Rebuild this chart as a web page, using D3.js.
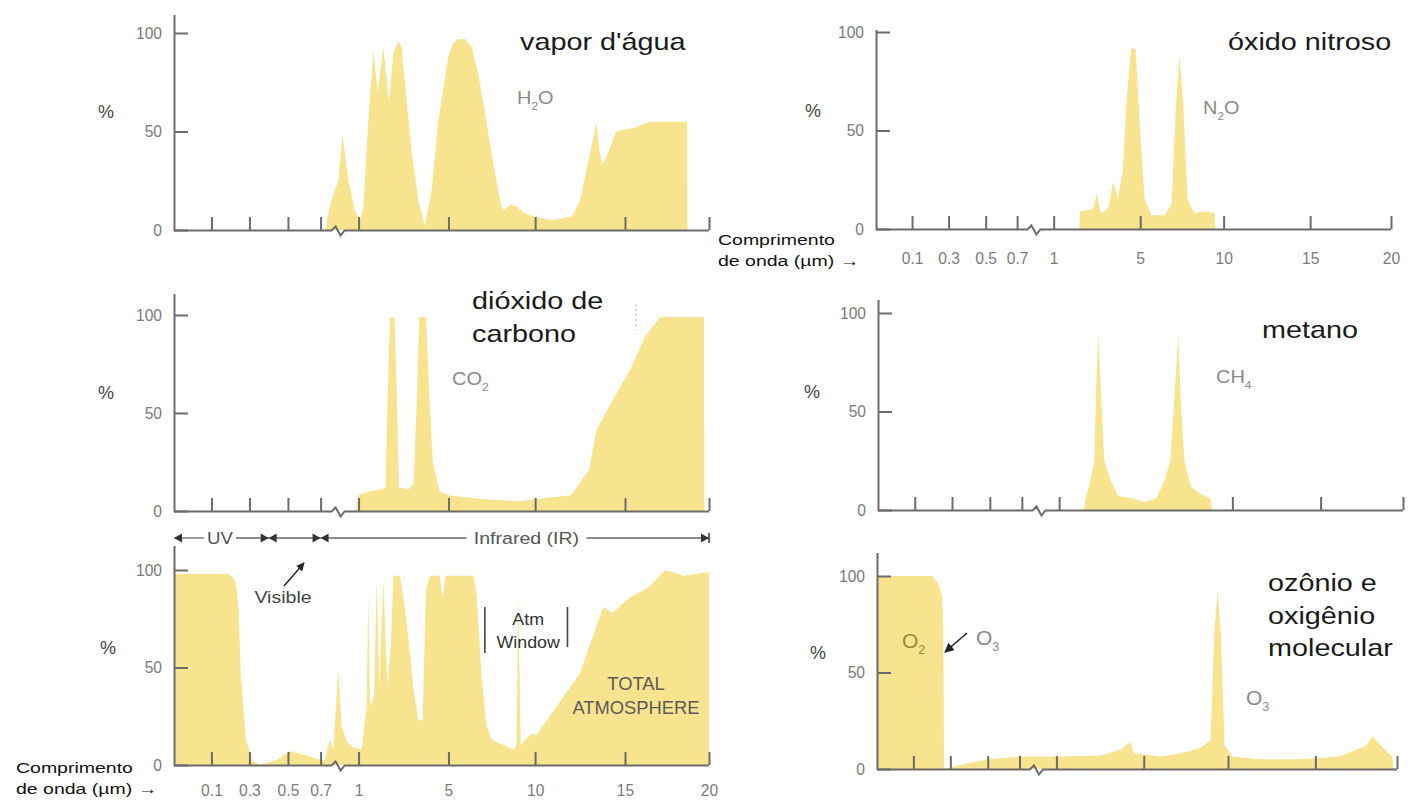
<!DOCTYPE html>
<html><head><meta charset="utf-8">
<script src="https://cdn.jsdelivr.net/npm/d3@7"></script>
<style>html,body{margin:0;padding:0;background:#fff;} svg{display:block}</style>
</head><body>
<svg id="c" width="1408" height="805"></svg>
<script>
// ---------------- DATA ----------------
const xTickValues = [0.1, 0.3, 0.5, 0.7, 1, 5, 10, 15, 20];
const xTickLabels = ["0.1", "0.3", "0.5", "0.7", "1", "5", "10", "15", "20"];
const yTickValues = [0, 50, 100];

// [wavelength µm, absorption %]
const h2o = [[0.74,0],[0.76,8],[0.8,18],[0.84,25],[0.874,48],[0.92,25],[0.97,10],[1.07,5],[1.21,11],[1.43,55],[1.66,91],[1.85,70],[2.1,93],[2.35,65],[2.55,90],[2.77,96],[2.91,93],[3.06,75],[3.36,40],[3.66,15],[3.95,2],[4.25,20],[4.54,55],[4.99,88],[5.3,95],[5.56,97],[5.94,97],[6.33,93],[6.7,80],[7.1,60],[7.47,40],[7.86,20],[8.05,12],[8.2,10],[8.6,13],[8.9,12],[9.3,9],[9.85,7],[10.95,5],[12.05,7],[12.5,15],[12.85,30],[13.2,45],[13.4,55],[13.55,42],[13.75,33],[14.1,40],[14.5,50],[15.6,52],[16.5,55],[18.7,55],[18.72,0]];
const co2 = [[0.98,0],[1.0,8],[1.5,10],[2.0,11],[2.2,12],[2.3,60],[2.4,99],[2.6,99],[2.7,60],[2.8,12],[3.2,11],[3.45,14],[3.6,60],[3.7,99],[4.0,99],[4.15,60],[4.3,25],[4.6,10],[5,8],[7,6],[9,5],[10,6],[12,8],[12.3,12],[13.0,21],[13.4,41],[14.4,58],[15.3,72],[16.2,89],[17.1,99],[19.7,99],[19.72,0]];
const totalAtm = [[0,98],[0.19,98],[0.215,96],[0.23,93],[0.243,80],[0.254,47],[0.281,13],[0.318,2],[0.355,0],[0.45,3],[0.51,7],[0.61,5],[0.73,2],[0.774,13],[0.8,8],[0.84,49],[0.866,20],[0.906,12],[0.958,9],[1.14,8],[1.36,30],[1.43,88],[1.51,30],[1.69,35],[1.81,95],[1.92,40],[2.1,95],[2.28,40],[2.43,60],[2.55,97],[2.84,97],[3.07,80],[3.44,40],[3.66,23],[3.85,23],[4.0,90],[4.18,97],[4.62,97],[4.74,85],[4.86,97],[6.43,97],[6.62,88],[6.91,45],[7.2,20],[7.49,13],[7.97,11],[8.74,8],[8.93,10],[9.03,88],[9.17,10],[9.51,14],[9.9,16],[10.05,15],[11.2,30],[12.5,47],[13.4,71],[13.8,81],[14.3,78],[15.3,86],[16.4,91],[17.4,100],[18.5,97],[20,99],[20,0]];
const n2o = [[2.18,0],[2.22,9],[2.81,10],[2.92,14],[3.02,18],[3.12,10],[3.22,8],[3.54,11],[3.75,24],[3.96,15],[4.2,30],[4.37,65],[4.58,92],[4.79,91],[5.0,49],[5.27,15],[5.68,7],[6.48,7],[6.89,13],[7.0,35],[7.16,65],[7.35,88],[7.57,65],[7.84,15],[8.24,8],[8.92,9],[9.47,8],[9.5,0]];
const ch4 = [[2.15,0],[2.18,5],[2.42,15],[2.6,25],[2.69,66],[2.78,90],[2.87,66],[3.05,25],[3.33,15],[3.69,7],[4.32,6],[4.87,4],[5.54,6],[6.01,15],[6.36,25],[6.6,58],[6.83,89],[6.95,58],[7.18,25],[7.54,12],[8.13,8],[8.71,6],[8.8,0]];
const o2o3 = [[0,100],[0.202,100],[0.234,96],[0.256,89],[0.262,72],[0.266,0],[0.396,3],[0.502,5],[0.705,6.5],[1.18,6.5],[3.01,7],[3.93,10],[4.38,14],[4.57,8],[6.0,6.5],[7.19,8],[8.37,11],[8.97,15],[9.2,72],[9.37,92],[9.56,72],[9.8,12],[10.25,6.5],[11.86,5],[14.15,5],[16.44,6.5],[18.1,12],[18.5,17],[19.25,10],[19.7,6.5],[19.8,0]];

const bandNames = ["UV", "", "Infrared (IR)"];
const bandEdges = [0, 0.4, 0.7, 20];
const atmWindow = [7.1, 11.8];

// ---------------- LAYOUT ----------------
const knots = [0, 0.1, 0.3, 0.5, 0.7, 1, 5, 10, 15, 20];
const knotFrac = [0, 0.07, 0.141, 0.213, 0.274, 0.345, 0.513, 0.675, 0.843, 1];
const BREAK = 0.85;
const FILL = "#f8e38e", AXIS = "#6b6b6b";
const SANS = "'Liberation Sans', Arial, Helvetica, sans-serif";
const SX = 1.2;

const svg = d3.select("#c");
const defs = svg.append("defs");
defs.append("marker").attr("id", "ah").attr("viewBox", "0 0 10 10")
  .attr("refX", 9).attr("refY", 5).attr("markerWidth", 6).attr("markerHeight", 6)
  .attr("orient", "auto").append("path").attr("d", "M0,0 L10,5 L0,10 z").attr("fill", "#222");

function addText(g, x, y, str, o) {
  o = o || {};
  return g.append("text")
    .attr("transform", `translate(${x},${y}) scale(${o.sx || 1},1)`)
    .attr("font-family", o.family || SANS)
    .attr("font-size", o.size || 16)
    .attr("fill", o.fill || "#111")
    .attr("text-anchor", o.anchor || "start")
    .text(str);
}
function chem(g, x, y, parts, o) {
  const t = g.append("text")
    .attr("transform", `translate(${x},${y}) scale(${o.sx || 1},1)`)
    .attr("font-family", SANS).attr("font-size", o.size).attr("fill", o.fill);
  parts.forEach(p => {
    if (p.sub) {
      t.append("tspan").attr("font-size", o.size * 0.6).attr("dy", o.size * 0.3).text(p.t);
    } else {
      t.append("tspan").attr("dy", p.back ? -o.size * 0.3 : 0).text(p.t);
    }
  });
  return t;
}

const panels = [
  { data: h2o, x0: 174, x1: 709, y0: 230, y100: 33, top: 15, ticks: xTickValues, showX: false, pct: 106,
    title: ["vapor d'água"], tx: 520, ty: 50,
    gas: [{t: "H"}, {t: "2", sub: true}, {t: "O", back: true}], gx: 517, gy: 104 },
  { data: co2, x0: 174, x1: 709, y0: 511, y100: 315, top: 294, ticks: xTickValues, showX: false, pct: 106,
    title: ["dióxido de", "carbono"], tx: 472, ty: 309, box: [446, 282, 190, 70],
    gas: [{t: "CO"}, {t: "2", sub: true}], gx: 452, gy: 385 },
  { data: totalAtm, x0: 174, x1: 709, y0: 765, y100: 570, top: 546, ticks: xTickValues, showX: true, pad: 19, pct: 108,
    comp: [16, 773] },
  { data: n2o, x0: 876, x1: 1391, y0: 229, y100: 32, top: 30, ticks: xTickValues, showX: true, pad: 23, pct: 813,
    title: ["óxido nitroso"], tx: 1228, ty: 50, comp: [718, 245],
    gas: [{t: "N"}, {t: "2", sub: true}, {t: "O", back: true}], gx: 1203, gy: 114 },
  { data: ch4, x0: 878, x1: 1403, y0: 510, y100: 313, top: 300, ticks: xTickValues.filter(v => v !== 5), showX: false, pct: 812,
    title: ["metano"], tx: 1262, ty: 338,
    gas: [{t: "CH"}, {t: "4", sub: true}], gx: 1216, gy: 383 },
  { data: o2o3, x0: 877, x1: 1397, y0: 769, y100: 576, top: 553, ticks: xTickValues, showX: false, pct: 818,
    title: ["ozônio e", "oxigênio", "molecular"], tx: 1268, ty: 591 }
];

const scales = [];
panels.forEach(p => {
  const g = svg.append("g");
  const x = d3.scaleLinear().domain(knots).range(knotFrac.map(f => p.x0 + f * (p.x1 - p.x0)));
  const y = d3.scaleLinear().domain([0, 100]).range([p.y0, p.y100]);
  scales.push({x, y});

  g.append("path").datum(p.data).attr("fill", FILL)
    .attr("d", d3.area().x(d => x(d[0])).y0(y(0)).y1(d => y(d[1])));

  if (p.box) {
    g.append("rect").attr("x", p.box[0]).attr("y", p.box[1]).attr("width", p.box[2]).attr("height", p.box[3]).attr("fill", "#fff");
    g.append("line").attr("x1", p.box[0] + p.box[2]).attr("x2", p.box[0] + p.box[2])
      .attr("y1", p.box[1] + 22).attr("y2", p.box[1] + 48).attr("stroke", "#aaa").attr("stroke-dasharray", "2,3");
  }

  // x axis ticks (pointing up)
  const xa = d3.axisBottom(x).tickValues(p.ticks).tickSizeInner(-13).tickSizeOuter(0).tickPadding(p.pad || 18)
    .tickFormat(p.showX ? (d => xTickLabels[xTickValues.indexOf(d)]) : () => "");
  const gx = g.append("g").attr("transform", `translate(0,${p.y0})`).call(xa);
  gx.select(".domain").remove();
  gx.selectAll(".tick line").attr("stroke", AXIS).attr("stroke-width", 2);
  gx.selectAll(".tick text").attr("fill", "#7a7a7a").attr("font-size", 17).attr("font-family", SANS)
    .attr("transform", "scale(0.92,1)");

  // axis line with break
  const bx = x(BREAK), yb = p.y0 + 0.5;
  g.append("path")
    .attr("d", `M${p.x0},${yb}H${bx - 8}L${bx - 4},${yb - 4}L${bx + 1},${yb + 5}L${bx + 5},${yb}H${p.x1}`)
    .attr("fill", "none").attr("stroke", AXIS).attr("stroke-width", 2);

  // y axis
  const ya = d3.axisLeft(y).tickValues(yTickValues).tickSizeInner(-14).tickSizeOuter(0).tickPadding(13);
  const gy = g.append("g").attr("transform", `translate(${p.x0},0)`).call(ya);
  gy.select(".domain").remove();
  gy.selectAll(".tick line").attr("stroke", AXIS).attr("stroke-width", 2);
  gy.selectAll(".tick text").attr("fill", "#7a7a7a").attr("font-size", 17).attr("font-family", SANS)
    .attr("transform", "scale(0.92,1)");
  g.append("line").attr("x1", p.x0 + 0.5).attr("x2", p.x0 + 0.5).attr("y1", p.top).attr("y2", p.y0 + 1)
    .attr("stroke", AXIS).attr("stroke-width", 2);

  // % label
  addText(g, p.pct, y(60) + 6, "%", {size: 18, fill: "#444", anchor: "middle"});

  if (p.title) {
    p.title.forEach((line, i) => addText(g, p.tx, p.ty + i * 32.5, line, {size: 24, sx: SX, fill: "#1a1a1a"}));
  }
  if (p.gas) chem(g, p.gx, p.gy, p.gas, {size: 19, fill: "#8a8a8a", sx: 1.05});
  if (p.comp) {
    addText(g, p.comp[0], p.comp[1], "Comprimento", {size: 15, sx: 1.3, fill: "#111"});
    addText(g, p.comp[0], p.comp[1] + 21, "de onda (µm) →", {size: 15, sx: 1.3, fill: "#111"});
  }
});

// ---- Total atmosphere annotations (bottom-left) ----
{
  const {x, y} = scales[2];
  const g = svg.append("g");
  const by = 538;
  const edges = bandEdges.map(v => x(v));
  const ah = (tip, dir) => `M${tip},${by}L${tip - dir * 8},${by - 4.5}L${tip - dir * 8},${by + 4.5}Z`;
  const segs = [];
  const gapUV = [x(0) + 30, x(0) + 62];
  const irMid = x(9.5);
  const gapIR = [irMid - 60, irMid + 60];
  segs.push([edges[0], gapUV[0]], [gapUV[1], edges[1]], [edges[1], edges[2]], [edges[2], gapIR[0]], [gapIR[1], edges[3]]);
  segs.forEach(s => g.append("line").attr("x1", s[0]).attr("x2", s[1]).attr("y1", by).attr("y2", by)
    .attr("stroke", "#666").attr("stroke-width", 1.3));
  g.append("path").attr("d", ah(edges[0], -1)).attr("fill", "#333");
  [edges[1], edges[2]].forEach(e => {
    g.append("path").attr("d", ah(e, 1)).attr("fill", "#333");
    g.append("path").attr("d", ah(e, -1)).attr("fill", "#333");
  });
  g.append("path").attr("d", ah(edges[3], 1)).attr("fill", "#333");
  g.append("line").attr("x1", edges[3]).attr("x2", edges[3]).attr("y1", by - 5).attr("y2", by + 5).attr("stroke", "#333").attr("stroke-width", 1.5);
  addText(g, (gapUV[0] + gapUV[1]) / 2, by + 6, bandNames[0], {size: 17, sx: 1.1, fill: "#555", anchor: "middle"});
  addText(g, irMid, by + 6, bandNames[2], {size: 17, sx: 1.15, fill: "#555", anchor: "middle"});

  addText(g, 283, 603, "Visible", {size: 17, sx: 1.15, fill: "#444", anchor: "middle"});
  g.append("line").attr("x1", 284).attr("y1", 586).attr("x2", 304).attr("y2", 563)
    .attr("stroke", "#222").attr("stroke-width", 1.4).attr("marker-end", "url(#ah)");

  // Atm Window bracket
  const wl = x(atmWindow[0]), wr = x(atmWindow[1]);
  g.append("line").attr("x1", wl).attr("x2", wl).attr("y1", 607).attr("y2", 653).attr("stroke", "#444").attr("stroke-width", 1.6);
  g.append("line").attr("x1", wr).attr("x2", wr).attr("y1", 607).attr("y2", 647).attr("stroke", "#444").attr("stroke-width", 1.6);
  addText(g, (wl + wr) / 2 + 2, 625, "Atm", {size: 17, sx: 1.05, fill: "#333", anchor: "middle"});
  addText(g, (wl + wr) / 2 + 2, 648, "Window", {size: 17, sx: 1.05, fill: "#333", anchor: "middle"});

  addText(g, 636, 690, "TOTAL", {size: 18, sx: 1.02, fill: "#5a5a5a", anchor: "middle"});
  addText(g, 636, 714, "ATMOSPHERE", {size: 18, sx: 1.02, fill: "#5a5a5a", anchor: "middle"});
}

// ---- O2 / O3 annotations (bottom-right) ----
{
  const g = svg.append("g");
  chem(g, 902, 648, [{t: "O"}, {t: "2", sub: true}], {size: 21, fill: "#9a8a40", sx: 1.0});
  chem(g, 976, 645, [{t: "O"}, {t: "3", sub: true}], {size: 21, fill: "#8a8a8a", sx: 1.0});
  chem(g, 1246, 705, [{t: "O"}, {t: "3", sub: true}], {size: 21, fill: "#8a8a8a", sx: 1.0});
  g.append("line").attr("x1", 967).attr("y1", 633).attr("x2", 945).attr("y2", 652)
    .attr("stroke", "#222").attr("stroke-width", 1.6).attr("marker-end", "url(#ah)");
}
</script>
</body></html>
